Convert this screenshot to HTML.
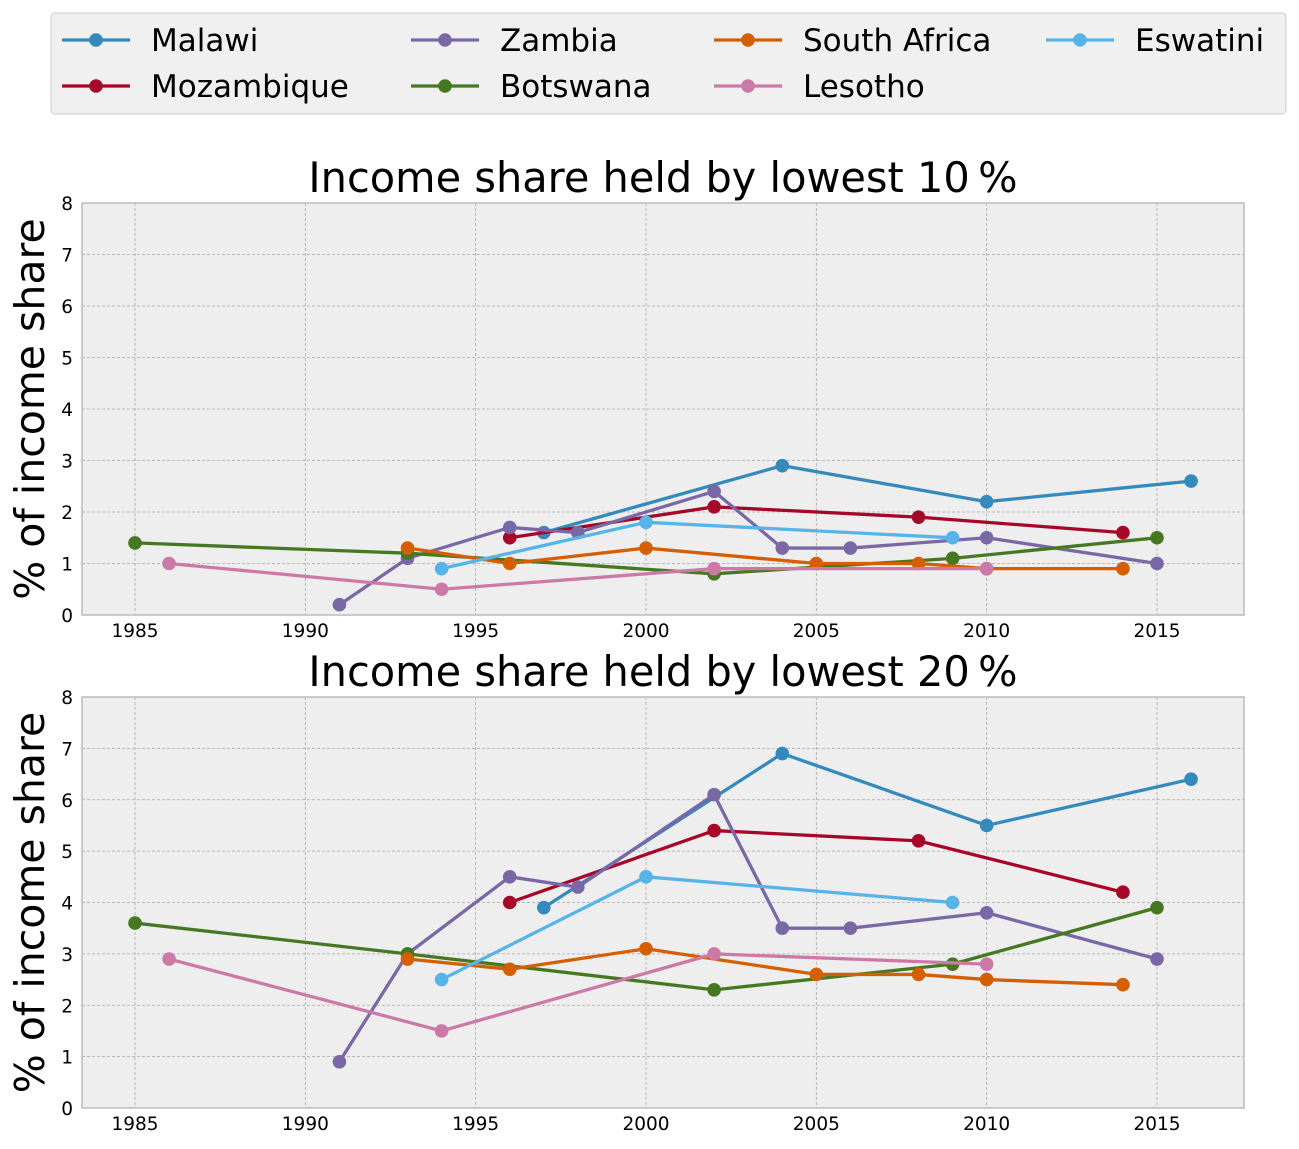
<!DOCTYPE html>
<html><head><meta charset="utf-8"><style>
body{margin:0;background:#fff;font-family:"Liberation Sans","DejaVu Sans",sans-serif}
</style></head><body>
<svg id="c" width="1299" height="1144" xmlns="http://www.w3.org/2000/svg" font-family="DejaVu Sans, Liberation Sans, sans-serif"></svg>
<script>
const countries=["Malawi","Mozambique","Zambia","Botswana","South Africa","Lesotho","Eswatini"];
const colors=["#348ABD","#A60628","#7A68A6","#467821","#D55E00","#CC79A7","#56B4E9"];
const years={
"Malawi":[1997,2004,2010,2016],
"Mozambique":[1996,2002,2008,2014],
"Zambia":[1991,1993,1996,1998,2002,2004,2006,2010,2015],
"Botswana":[1985,1993,2002,2009,2015],
"South Africa":[1993,1996,2000,2005,2008,2010,2014],
"Lesotho":[1986,1994,2002,2010],
"Eswatini":[1994,2000,2009]};
const low10={
"Malawi":[1.6,2.9,2.2,2.6],
"Mozambique":[1.5,2.1,1.9,1.6],
"Zambia":[0.2,1.1,1.7,1.6,2.4,1.3,1.3,1.5,1.0],
"Botswana":[1.4,1.2,0.8,1.1,1.5],
"South Africa":[1.3,1.0,1.3,1.0,1.0,0.9,0.9],
"Lesotho":[1.0,0.5,0.9,0.9],
"Eswatini":[0.9,1.8,1.5]};
const low20={
"Malawi":[3.9,6.9,5.5,6.4],
"Mozambique":[4.0,5.4,5.2,4.2],
"Zambia":[0.9,3.0,4.5,4.3,6.1,3.5,3.5,3.8,2.9],
"Botswana":[3.6,3.0,2.3,2.8,3.9],
"South Africa":[2.9,2.7,3.1,2.6,2.6,2.5,2.4],
"Lesotho":[2.9,1.5,3.0,2.8],
"Eswatini":[2.5,4.5,4.0]};
const xTicks=[1985,1990,1995,2000,2005,2010,2015];
const yTicks=[0,1,2,3,4,5,6,7,8];
const NS="http://www.w3.org/2000/svg";
const svg=document.getElementById('c');
function mk(t,a,p){const e=document.createElementNS(NS,t);for(const k in a)e.setAttribute(k,a[k]);(p||svg).appendChild(e);return e;}
const L=82,R=1244;
const xs=v=>135+(v-1985)*(1157-135)/30;
function panel(top,bot,data,title,nm){
  const g=mk('g',{});
  
  
  const ys=v=>bot-(v/8)*(bot-top);
  const bg=mk('rect',{x:L,y:top,width:R-L,height:bot-top,fill:'#eeeeee'},g);
  
  xTicks.forEach(t=>{
    mk('line',{x1:xs(t),x2:xs(t),y1:top,y2:bot,stroke:'#a8a8a8','stroke-dasharray':'3,2','stroke-width':0.8},g);
    const tx=mk('text',{x:xs(t),y:bot+22,'font-size':18.5,'text-anchor':'middle',fill:'#000'},g);tx.textContent=t;
    
  });
  yTicks.forEach(t=>{
    mk('line',{x1:L,x2:R,y1:ys(t),y2:ys(t),stroke:'#a8a8a8','stroke-dasharray':'3,2','stroke-width':0.8},g);
    const tx=mk('text',{x:L-9,y:ys(t)+7,'font-size':18.5,'text-anchor':'end',fill:'#000'},g);tx.textContent=t;
    
  });
  mk('rect',{x:L,y:top,width:R-L,height:bot-top,fill:'none',stroke:'#bcbcbc','stroke-width':1.5},g);
  countries.forEach((c,i)=>{
    const pts=years[c].map((y,j)=>xs(y)+','+ys(data[c][j])).join(' ');
    const pl=mk('polyline',{points:pts,fill:'none',stroke:colors[i],'stroke-width':3.3,'stroke-linejoin':'round'},g);
    
    
    years[c].forEach((y,j)=>{
      const m=mk('circle',{cx:xs(y),cy:ys(data[c][j]),r:6.8,fill:colors[i]},g);
      
      
    });
  });
  const tt=mk('text',{x:(L+R)/2,y:top-11,'font-size':41.5,'text-anchor':'middle',fill:'#000'},g);tt.textContent=title;
  
  const yl=mk('text',{x:0,y:0,'font-size':41,'text-anchor':'middle',fill:'#000',transform:`translate(44,${(top+bot)/2}) rotate(-90)`},g);yl.textContent='% of income share';
  
}
panel(203,615,low10,'Income share held by lowest 10\u2009%','panel-lowest-10');
panel(697,1108,low20,'Income share held by lowest 20\u2009%','panel-lowest-20');
const lg=mk('g',{});

mk('rect',{x:51,y:13,width:1235,height:101,rx:4,fill:'#f0f0f0',stroke:'#cccccc'},lg);
const colX=[62,411,714,1046],rowY=[40,86];
countries.forEach((c,i)=>{
  const col=Math.floor(i/2),row=i%2;const x=colX[col],y=rowY[row];
  const e=mk('g',{},lg);
  
  mk('line',{x1:x,x2:x+68,y1:y,y2:y,stroke:colors[i],'stroke-width':3.3},e);
  mk('circle',{cx:x+34,cy:y,r:6.8,fill:colors[i]},e);
  const t=mk('text',{x:x+89,y:y+11,'font-size':31,fill:'#000'},e);t.textContent=c;
});
</script>
</body></html>
